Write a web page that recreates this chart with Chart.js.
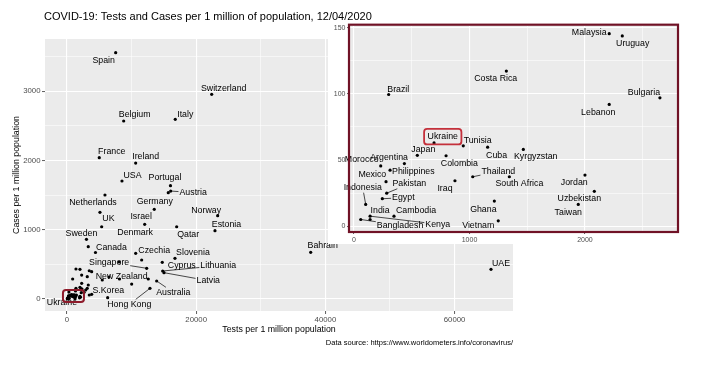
<!DOCTYPE html>
<html>
<head>
<meta charset="utf-8">
<script src="https://cdn.jsdelivr.net/npm/chart.js@4.4.0/dist/chart.umd.min.js"></script>
<style>
  html, body { margin: 0; padding: 0; background: #fff; }
  #wrap { position: relative; width: 723px; height: 371px; }
  #main { position: absolute; left: 0; top: 0; }
  #inset { position: absolute; left: 328px; top: 20px; background: #fff; }
</style>
</head>
<body>
<div id="wrap">
  <canvas id="main" width="723" height="371" style="width:723px;height:371px"></canvas>
  <canvas id="inset" width="365" height="224" style="width:365px;height:224px"></canvas>
</div>
<script>
// data: tests and cases per 1 million population
const countries = ['Spain', 'Switzerland', 'Belgium', 'Italy', 'France', 'Ireland', 'USA', 'Portugal', 'Austria',
  'Netherlands', 'Germany', 'Norway', 'UK', 'Israel', 'Estonia', 'Qatar', 'Sweden', 'Denmark', 'Canada', 'Czechia',
  'Slovenia', 'Singapore', 'Cyprus', 'Lithuania', 'Latvia', 'New Zealand', 'Australia', 'Hong Kong', 'S.Korea',
  'Bahrain', 'UAE',
  'Malaysia', 'Uruguay', 'Costa Rica', 'Brazil', 'Bulgaria', 'Lebanon', 'Ukraine', 'Tunisia', 'Japan', 'Cuba',
  'Kyrgyzstan', 'Colombia', 'Argentina', 'Morocco', 'Mexico', 'Philippines', 'Pakistan', 'Indonesia', 'Egypt',
  'Iraq', 'Thailand', 'South Africa', 'Jordan', 'Uzbekistan', 'Taiwan', 'Ghana', 'Vietnam', 'Kenya', 'Bangladesh',
  'India', 'Cambodia'];
const tests = [7540, 22400, 8780, 16765, 5000, 10635, 8514, 16020, 16053,
  5882, 13514, 23328, 5108, 12028, 22910, 16982, 3019, 5372, 4412, 10635,
  16718, 12338, 14752, 14814, 15016, 12585, 13886, 12848, 10016,
  37725, 65635,
  2210, 2323, 1319, 300, 2649, 2210, 693, 946, 548, 1157,
  1466, 797, 436, 231, 277, 312, 283, 101, 245,
  874, 1028, 1345, 2000, 2081, 1942, 1215, 1249, 139, 58,
  139, 346];
const cases = [3554, 2954, 2569, 2593, 2039, 1962, 1703, 1635, 1558,
  1501, 1294, 1202, 1251, 1078, 986, 1043, 861, 1043, 671, 659,
  587, 443, 530, 404, 380, 289, 260, 154, 216,
  674, 429,
  145.5, 143.8, 117.2, 99.5, 97, 92, 62.9, 60.7, 53.5, 59.7,
  58, 53.2, 47.3, 45.5, 33.6, 42.3, 24.9, 16.4, 20.7,
  34.3, 37.3, 37.3, 38.6, 26.3, 16.4, 18.9, 4, 7.5, 5,
  5, 7.5];
// points without a label in the picture
const otherTests = [15681, 3297, 8050, 11564, 1393, 2012, 3452, 3824, 882, 2276, 3142, 2276,
  2012, 1393, 3297, 5464, 6500, 8127, 3452, 3824, 6300, 2900, 3142];
const otherCases = [1534, 755, 534, 563, 433, 429, 408, 394, 289, 346, 322, 227,
  169, 154, 202, 274, 317, 289, 58, 68, 19, 130, 154];

const mainTicksX = [0, 20000, 40000, 60000];
const mainTicksY = [0, 1000, 2000, 3000];
const insetTicksX = [0, 1000, 2000];
const insetTicksY = [0, 50, 100, 150];

// label placement (pixels from the point), as ggrepel put them
const mainNudge = {
  'Spain': [-12, 7.5], 'Switzerland': [12, -5.5], 'Belgium': [11, -6], 'Italy': [10, -5],
  'France': [12.5, -6], 'Ireland': [10, -6], 'USA': [10.5, -5], 'Portugal': [-5.5, -8],
  'Austria': [22.5, 1.5], 'Netherlands': [-12, 7.5], 'Germany': [0.5, -7.5], 'Norway': [-11.5, -5.5],
  'UK': [8.5, 6], 'Israel': [-3.5, -7.5], 'Estonia': [11.5, -6.5], 'Qatar': [11.5, 7.5],
  'Sweden': [-5, -6], 'Denmark': [33.5, 5.5], 'Canada': [16, -5], 'Czechia': [18.5, -2.5],
  'Slovenia': [18, -6], 'Singapore': [-37.5, -6], 'Cyprus': [19.5, 3.5], 'Lithuania': [55.5, -5.3],
  'Latvia': [44.3, 8], 'New Zealand': [-26.6, -2.3], 'Australia': [16.6, 11.3], 'Hong Kong': [-20.7, 16],
  'S.Korea': [-23.4, 6.3], 'Bahrain': [12, -6.3], 'UAE': [10, -5.3], 'Ukraine': [-9.5, 8]
};
const mainSegments = ['Austria', 'Singapore', 'Lithuania', 'Latvia', 'Australia', 'Hong Kong'];

const insetNudge = {
  'Malaysia': [-20, -1], 'Uruguay': [10.4, 7.7], 'Costa Rica': [-10.6, 7.7], 'Brazil': [9.6, -5],
  'Bulgaria': [-16, -5], 'Lebanon': [-11, 8], 'Ukraine': [8.7, -6], 'Tunisia': [14.4, -5.4],
  'Japan': [6, -5.3], 'Cuba': [9, 8.3], 'Kyrgyzstan': [12.4, 7], 'Colombia': [13.3, 7.6],
  'Argentina': [-15.3, -6], 'Morocco': [-19, -6.7], 'Mexico': [-13.7, -6.7], 'Philippines': [23.3, 1.7],
  'Pakistan': [22.6, -9.4], 'Indonesia': [-3, -16.7], 'Egypt': [21, -1], 'Iraq': [-10, 7.7],
  'Thailand': [25.6, -5.3], 'South Africa': [10, 7.3], 'Jordan': [-10.7, 7.4], 'Uzbekistan': [-15, 7.6],
  'Taiwan': [-10, 7.7], 'Ghana': [-11, 8.3], 'Vietnam': [-20, 4.3], 'Kenya': [67.7, 8],
  'Bangladesh': [39.3, 5.7], 'India': [10, -8.6], 'Cambodia': [22, -5.3]
};
const insetSegments = ['Pakistan', 'Indonesia', 'Egypt', 'Thailand', 'Kenya', 'Bangladesh'];

const FONT = '"Liberation Sans", Arial, sans-serif';

function labelItems(nudge, segs) {
  return countries.map((c, i) => ({ text: c, x: tests[i], y: cases[i] }))
    .filter(p => nudge[p.text])
    .map(p => ({ ...p, dx: nudge[p.text][0], dy: nudge[p.text][1], seg: segs.includes(p.text) }));
}

function roundRectPath(ctx, x, y, w, h, r) {
  ctx.beginPath();
  ctx.moveTo(x + r, y);
  ctx.arcTo(x + w, y, x + w, y + h, r);
  ctx.arcTo(x + w, y + h, x, y + h, r);
  ctx.arcTo(x, y + h, x, y, r);
  ctx.arcTo(x, y, x + w, y, r);
  ctx.closePath();
}

// grey panel like ggplot
const panelBg = {
  id: 'panelBg',
  beforeDraw(chart) {
    const { ctx, chartArea: a } = chart;
    ctx.save();
    ctx.fillStyle = '#fff';
    ctx.fillRect(0, 0, chart.width, chart.height);
    ctx.fillStyle = '#EBEBEB';
    ctx.fillRect(a.left, a.top, a.right - a.left, a.bottom - a.top);
    ctx.restore();
  }
};

function makeLabels(items, highlight) {
  return {
    id: 'repelLabels',
    afterDatasetsDraw(chart) {
      const { ctx, scales: { x, y } } = chart;
      ctx.save();
      ctx.font = '8.8px ' + FONT;
      ctx.textAlign = 'center';
      ctx.textBaseline = 'middle';
      items.forEach(it => {
        const px = x.getPixelForValue(it.x), py = y.getPixelForValue(it.y);
        const lx = px + it.dx, ly = py + it.dy;
        const hw = ctx.measureText(it.text).width / 2 + 1, hh = 5;
        if (it.seg) {
          const ddx = px - lx, ddy = py - ly;
          const t = Math.min(Math.abs(hw / ddx), Math.abs(hh / ddy), 1);
          ctx.beginPath();
          ctx.moveTo(px, py);
          ctx.lineTo(lx + ddx * t, ly + ddy * t);
          ctx.strokeStyle = '#000';
          ctx.lineWidth = 0.7;
          ctx.stroke();
        }
        ctx.fillStyle = '#000';
        ctx.fillText(it.text, lx, ly);
        if (highlight && it.text === highlight) {
          ctx.strokeStyle = '#C4303B';
          ctx.lineWidth = 1.8;
          roundRectPath(ctx, lx - hw - 2.5, ly - 8, hw * 2 + 5, 15.5, 3);
          ctx.stroke();
        }
      });
      ctx.restore();
    }
  };
}

function axis(min, max, step, shown, font, extra) {
  const major = v => shown.includes(Math.abs(v) < 1e-9 ? 0 : v);
  return Object.assign({
    type: 'linear', min, max,
    afterBuildTicks: s => {
      const t = [];
      for (let v = Math.ceil(min / step) * step; v <= max; v += step) t.push({ value: v === 0 ? 0 : v });
      s.ticks = t;
    },
    border: { display: false },
    grid: {
      color: '#fff',
      lineWidth: c => (c.tick && major(c.tick.value)) ? 1.1 : 0.55,
      tickColor: c => (c.tick && major(c.tick.value)) ? '#333' : 'rgba(0,0,0,0)',
      tickLength: 3, tickWidth: 0.8, drawTicks: true
    },
    ticks: {
      autoSkip: false, maxRotation: 0, minRotation: 0, padding: 1.5,
      color: '#4D4D4D', font: { family: FONT, size: font },
      callback: v => major(v) ? String(Math.abs(v) < 1e-9 ? 0 : v) : ''
    }
  }, extra);
}

// main chart
const mainPts = countries.map((c, i) => ({ x: tests[i], y: cases[i] }))
  .concat(otherTests.map((t, i) => ({ x: t, y: otherCases[i] })));

const mainExtras = {
  id: 'mainExtras',
  afterDatasetsDraw(chart) {
    const { ctx, scales: { x, y } } = chart;
    ctx.save();
    // red box around the zoomed cluster
    const x0 = x.getPixelForValue(-620), x1 = x.getPixelForValue(2630);
    const y0 = y.getPixelForValue(130), y1 = y.getPixelForValue(-43);
    ctx.strokeStyle = '#8E1B2B';
    ctx.lineWidth = 2;
    roundRectPath(ctx, x0, y0, x1 - x0, y1 - y0, 3);
    ctx.stroke();
    ctx.restore();
  },
  afterDraw(chart) {
    const { ctx, chartArea: a } = chart;
    ctx.save();
    ctx.fillStyle = '#000';
    ctx.font = '11px ' + FONT;
    ctx.textAlign = 'left';
    ctx.textBaseline = 'alphabetic';
    ctx.fillText('COVID-19: Tests and Cases per 1 million of population, 12/04/2020', 44, 20);
    ctx.font = '7.5px ' + FONT;
    ctx.textAlign = 'right';
    ctx.fillText('Data source: https://www.worldometers.info/coronavirus/', a.right, 345);
    ctx.restore();
  }
};

new Chart(document.getElementById('main'), {
  type: 'scatter',
  data: { datasets: [{ data: mainPts, pointRadius: 1.6, pointBackgroundColor: '#000', pointBorderWidth: 0 }] },
  options: {
    responsive: false, animation: false,
    layout: { padding: { top: 39, right: 210, bottom: 0, left: 0 } },
    plugins: { legend: { display: false }, tooltip: { enabled: false } },
    scales: {
      x: axis(-3400, 69040, 10000, mainTicksX, 7.8, {
        afterFit: s => { s.height = 60; },
        title: { display: true, text: 'Tests per 1 million population', color: '#000',
          font: { family: FONT, size: 8.8 }, padding: { top: 0, bottom: 36.2 } }
      }),
      y: axis(-173, 3752, 500, mainTicksY, 7.8, {
        afterFit: s => { s.width = 45; },
        title: { display: true, text: 'Cases per 1 million population', color: '#000',
          font: { family: FONT, size: 8.8 }, padding: { top: 11.4, bottom: 0 } }
      })
    }
  },
  plugins: [panelBg, makeLabels(labelItems(mainNudge, mainSegments)), mainExtras]
});

// inset: zoom on the low corner
const insetPts = countries.map((c, i) => ({ x: tests[i], y: cases[i] }))
  .filter(p => p.x < 2797 && p.y < 152);

const insetBorder = {
  id: 'insetBorder',
  afterDraw(chart) {
    const { ctx, chartArea: a } = chart;
    ctx.save();
    ctx.strokeStyle = '#701226';
    ctx.lineWidth = 2.2;
    ctx.strokeRect(a.left - 1, a.top - 1, a.right - a.left + 2, a.bottom - a.top + 2);
    ctx.restore();
  }
};

new Chart(document.getElementById('inset'), {
  type: 'scatter',
  data: { datasets: [{ data: insetPts, pointRadius: 1.6, pointBackgroundColor: '#000', pointBorderWidth: 0 }] },
  options: {
    responsive: false, animation: false,
    layout: { padding: { top: 3, right: 16, bottom: 0, left: 0 } },
    plugins: { legend: { display: false }, tooltip: { enabled: false } },
    scales: {
      x: axis(-35, 2797, 500, insetTicksX, 7, { afterFit: s => { s.height = 13; } }),
      y: axis(-3.7, 151.5, 25, insetTicksY, 7, { afterFit: s => { s.width = 22; } })
    }
  },
  plugins: [panelBg, makeLabels(labelItems(insetNudge, insetSegments), 'Ukraine'), insetBorder]
});
</script>
</body>
</html>
